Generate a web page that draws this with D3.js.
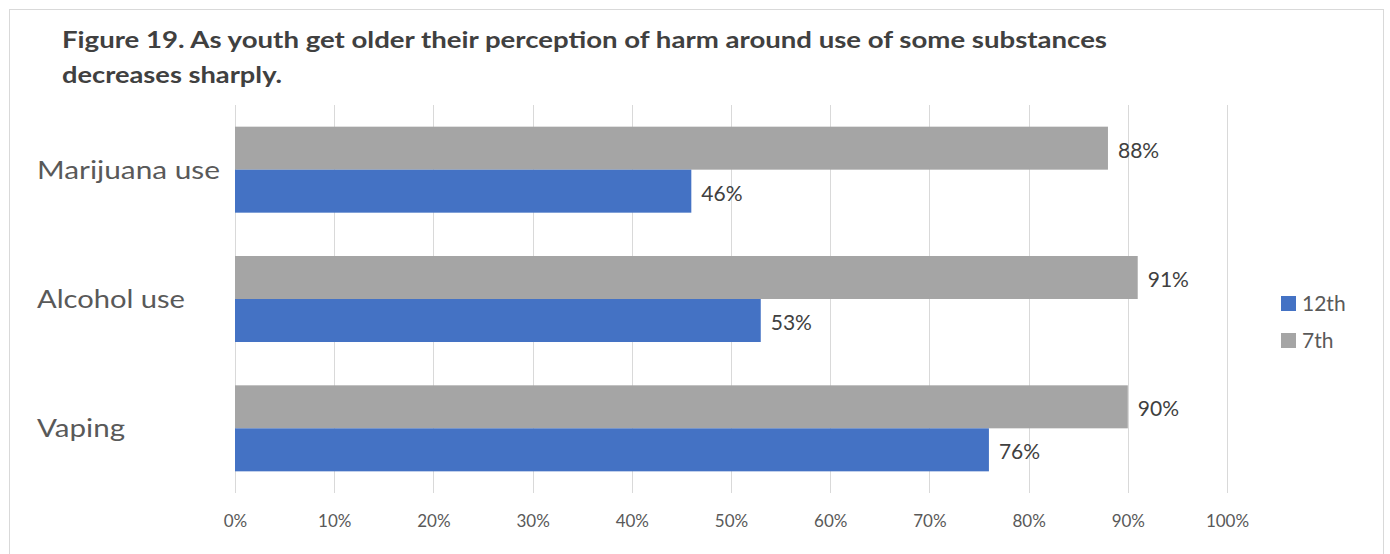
<!DOCTYPE html>
<html>
<head>
<meta charset="utf-8">
<script src="https://cdn.jsdelivr.net/npm/d3@7"></script>
<style>
  html, body { margin: 0; padding: 0; background: #fff; }
  svg { display: block; }
  text { font-family: Lato, "Open Sans", sans-serif; }
</style>
</head>
<body>
<svg id="chart" width="1390" height="554"></svg>
<script>
const titleLines = [
  "Figure 19. As youth get older their perception of harm around use of some substances",
  "decreases sharply."
];
const categories = ["Marijuana use", "Alcohol use", "Vaping"];
const seriesNames = ["7th", "12th"];
const values7th = [0.88, 0.91, 0.90];
const values12th = [0.46, 0.53, 0.76];
const tickValues = [0, 0.1, 0.2, 0.3, 0.4, 0.5, 0.6, 0.7, 0.8, 0.9, 1.0];
const legendNames = ["12th", "7th"];

const colors = { "12th": "#4472C4", "7th": "#A5A5A5" };
const seriesValues = { "7th": values7th, "12th": values12th };

const svg = d3.select("#chart");

// border
svg.append("rect").attr("x", 9.5).attr("y", 9.5).attr("width", 1374).attr("height", 560)
  .attr("fill", "#fff").attr("stroke", "#d9d9d9").attr("stroke-width", 1);

// title
const titleWidths = [1045, 220];
titleLines.forEach((t, i) => {
  svg.append("text")
    .attr("x", 62).attr("y", 48 + i * 35)
    .attr("font-size", 22).attr("font-weight", "bold")
    .attr("fill", "#404040")
    .attr("textLength", titleWidths[i]).attr("lengthAdjust", "spacingAndGlyphs")
    .text(t);
});

const x = d3.scaleLinear().domain([0, 1]).range([235, 1227]);
const y = d3.scaleBand().domain(categories).range([105, 493])
  .paddingInner(0.335).paddingOuter(0.1675);
const ySub = d3.scaleBand().domain(seriesNames).range([0, y.bandwidth()]);

// gridlines
svg.append("g").selectAll("line").data(tickValues).join("line")
  .attr("x1", d => Math.round(x(d)) + 0.5).attr("x2", d => Math.round(x(d)) + 0.5)
  .attr("y1", 105).attr("y2", 493)
  .attr("stroke", "#d9d9d9").attr("stroke-width", 1);

// x axis tick labels
const xAxis = d3.axisBottom(x).tickValues(tickValues).tickSize(0)
  .tickFormat(d3.format(".0%"));
const gx = svg.append("g").attr("transform", "translate(0,512)").call(xAxis);
gx.select(".domain").remove();
gx.selectAll("text").attr("font-family", "Lato, sans-serif").attr("font-size", 17)
  .attr("fill", "#595959").attr("dy", "0.71em");

// category labels
const catWidths = { "Marijuana use": 183, "Alcohol use": 148, "Vaping": 88 };
svg.append("g").selectAll("text").data(categories).join("text")
  .attr("x", 37)
  .attr("y", d => y(d) + y.bandwidth() / 2)
  .attr("dy", "0.36em")
  .attr("font-size", 25).attr("fill", "#595959")
  .attr("textLength", d => catWidths[d]).attr("lengthAdjust", "spacingAndGlyphs")
  .text(d => d);

// bars
const rows = [];
categories.forEach((c, i) => {
  seriesNames.forEach(s => rows.push({ cat: c, series: s, value: seriesValues[s][i] }));
});

svg.append("g").selectAll("rect").data(rows).join("rect")
  .attr("x", x(0))
  .attr("y", d => y(d.cat) + ySub(d.series))
  .attr("width", d => x(d.value) - x(0))
  .attr("height", ySub.bandwidth())
  .attr("fill", d => colors[d.series]);

// data labels
svg.append("g").selectAll("text").data(rows).join("text")
  .attr("x", d => x(d.value) + 10)
  .attr("y", d => y(d.cat) + ySub(d.series) + ySub.bandwidth() / 2 + 2)
  .attr("dy", "0.36em")
  .attr("font-size", 21).attr("fill", "#404040")
  .text(d => d3.format(".0%")(d.value));

// legend
const lg = svg.append("g");
legendNames.forEach((n, i) => {
  lg.append("rect").attr("x", 1281).attr("y", 296 + i * 37)
    .attr("width", 15).attr("height", 15).attr("fill", colors[n]);
  lg.append("text").attr("x", 1302).attr("y", 303.5 + i * 37).attr("dy", "0.36em")
    .attr("font-size", 21).attr("fill", "#595959").text(n);
});
</script>
</body>
</html>
